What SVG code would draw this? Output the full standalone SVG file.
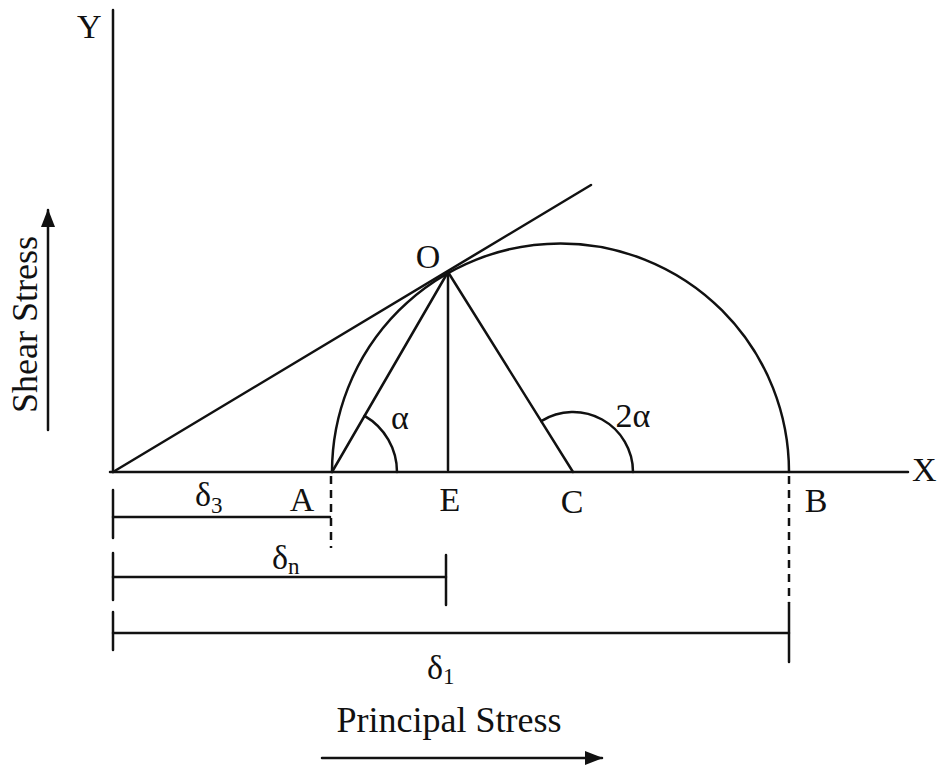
<svg xmlns="http://www.w3.org/2000/svg" width="937" height="769" viewBox="0 0 937 769">
<style>
.ln{stroke:#111;stroke-width:2.5;fill:none;stroke-linecap:round}
.ds{stroke:#111;stroke-width:2.5;fill:none;stroke-dasharray:8 6}
.t{font-family:"Liberation Serif","Times New Roman",serif;fill:#111;font-size:34px}
.big{font-size:36px}
.sub{font-size:23px}
</style>
<defs>
<marker id="ah" viewBox="0 0 18 14" refX="17" refY="7" markerWidth="18" markerHeight="14" markerUnits="userSpaceOnUse" orient="auto">
<path d="M0,0 L18,7 L0,14 z" fill="#111"/>
</marker>
</defs>
<rect width="937" height="769" fill="#fff"/>
<g id="axes">
<line class="ln" x1="113" y1="10" x2="113" y2="472"/>
<line class="ln" x1="110" y1="472" x2="908" y2="472"/>
<text class="t" x="77" y="38">Y</text>
<text class="t" x="912" y="481">X</text>
</g>
<g id="circle">
<path class="ln" d="M332 472 A228.5 228.5 0 0 1 789 472"/>
</g>
<g id="connectors">
<line class="ln" x1="113" y1="472" x2="591" y2="185"/>
<line class="ln" x1="332" y1="472" x2="448" y2="272"/>
<line class="ln" x1="448" y1="272" x2="448" y2="470"/>
<line class="ln" x1="448" y1="272" x2="573" y2="472"/>
<path class="ln" d="M364.6 415.8 A65 65 0 0 1 397 472"/>
<path class="ln" d="M541.2 421.1 A60 60 0 0 1 633 472"/>
</g>
<g id="labels">
<text class="t" x="428" y="268" text-anchor="middle">O</text>
<text class="t" x="400" y="429" text-anchor="middle">α</text>
<text class="t" x="633" y="427" text-anchor="middle">2α</text>
<text class="t" x="302" y="511" text-anchor="middle">A</text>
<text class="t" x="450" y="511" text-anchor="middle">E</text>
<text class="t" x="572" y="513" text-anchor="middle">C</text>
<text class="t" x="816" y="512" text-anchor="middle">B</text>
</g>
<g id="dimensions">
<line class="ds" x1="331" y1="476" x2="331" y2="548"/>
<line class="ds" x1="789" y1="476" x2="789" y2="603"/>
<line class="ln" x1="113" y1="490" x2="113" y2="538"/>
<line class="ln" x1="113" y1="517" x2="330" y2="517"/>
<line class="ln" x1="113" y1="553" x2="113" y2="600"/>
<line class="ln" x1="113" y1="577" x2="446" y2="577"/>
<line class="ln" x1="446" y1="555" x2="446" y2="605"/>
<line class="ln" x1="113" y1="612" x2="113" y2="650"/>
<line class="ln" x1="113" y1="633" x2="789" y2="633"/>
<line class="ln" x1="789" y1="603" x2="789" y2="662"/>
<text class="t" x="195" y="506">δ<tspan class="sub" dy="7">3</tspan></text>
<text class="t" x="272" y="569">δ<tspan class="sub" dy="5">n</tspan></text>
<text class="t" x="427" y="679">δ<tspan class="sub" dy="5">1</tspan></text>
</g>
<g id="axis-titles">
<text class="t big" x="449" y="732" text-anchor="middle">Principal Stress</text>
<line class="ln" x1="322" y1="758" x2="602" y2="758" marker-end="url(#ah)"/>
<text class="t big" transform="translate(37,324.5) rotate(-90)" text-anchor="middle">Shear Stress</text>
<line class="ln" x1="48" y1="430" x2="48" y2="210" marker-end="url(#ah)"/>
</g>
</svg>
